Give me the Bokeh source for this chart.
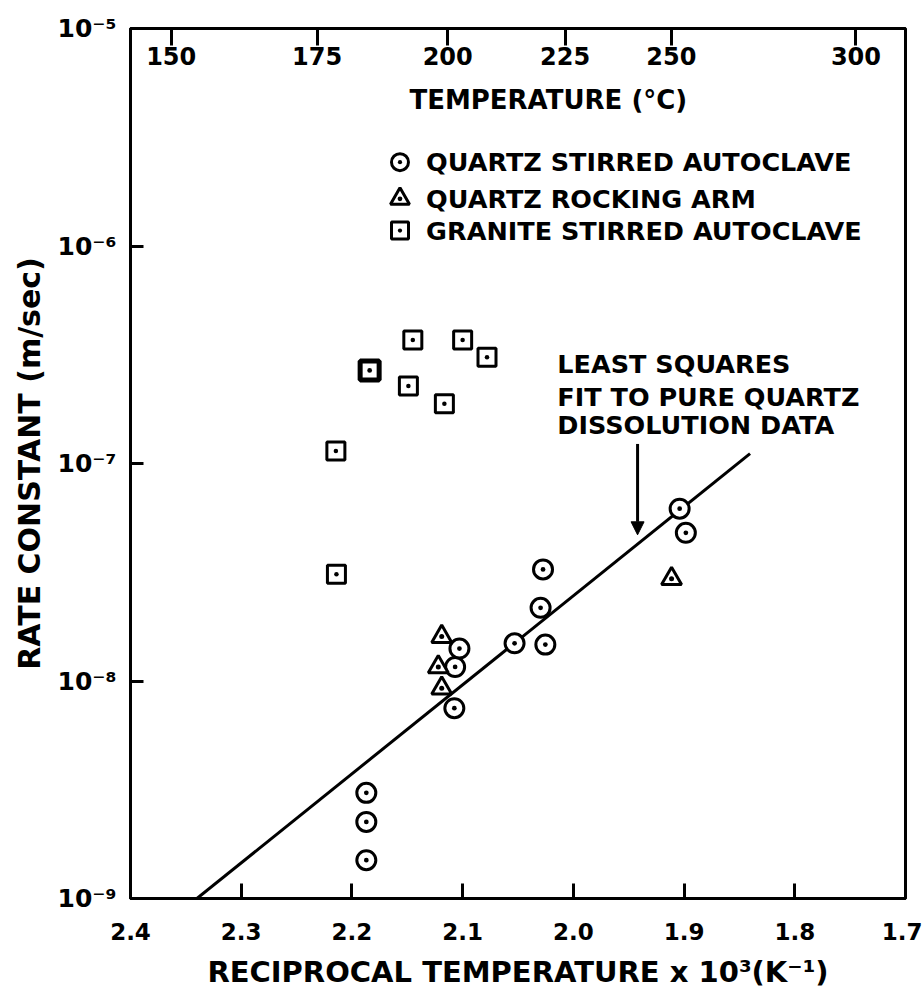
from bokeh.plotting import figure
from bokeh.models import (Range1d, LinearAxis, FixedTicker, Label, Arrow,
                          NormalHead, CustomJSTickFormatter)
from bokeh.embed import file_html
from bokeh.resources import INLINE

# ---------------- data ----------------
# Quartz, stirred autoclave (1000/T, rate constant m/s)
qsa_x = [2.187, 2.187, 2.187, 2.1075, 2.1068, 2.1029, 2.0531, 2.0296, 2.0253, 2.0274, 1.904, 1.8984]
qsa_k = [3.06e-9, 2.25e-9, 1.5e-9, 7.5e-9, 1.16e-8, 1.41e-8, 1.49e-8, 2.17e-8, 1.47e-8, 3.26e-8, 6.2e-8, 4.8e-8]

# Quartz, rocking arm
qra_x = [2.1189, 2.122, 2.1189, 1.9113]
qra_k = [1.6e-8, 1.16e-8, 9.26e-9, 2.95e-8]

# Granite, stirred autoclave
gsa_x = [2.2145, 2.214, 2.184, 2.149, 2.145, 2.1165, 2.100, 2.078]
gsa_k = [1.14e-7, 3.1e-8, 2.68e-7, 2.27e-7, 3.7e-7, 1.88e-7, 3.7e-7, 3.08e-7]

# least squares fit to pure quartz data (end points)
fit_x = [2.34, 1.8404]
fit_k = [1.0e-9, 1.11e-7]

# axes
x_ticks = [2.4, 2.3, 2.2, 2.1, 2.0, 1.9, 1.8, 1.7]
y_ticks = [1e-9, 1e-8, 1e-7, 1e-6, 1e-5]
temp_c = [150, 175, 200, 225, 250, 300]
temp_x = [1000.0 / (t + 273.15) for t in temp_c]

legend_labels = ["QUARTZ STIRRED AUTOCLAVE", "QUARTZ ROCKING ARM", "GRANITE STIRRED AUTOCLAVE"]
note_lines = ["LEAST SQUARES", "FIT TO PURE QUARTZ", "DISSOLUTION DATA"]

FONT = "DejaVu Sans"
INK = "black"

p = figure(width=922, height=995, output_backend="svg", toolbar_location=None,
           x_range=Range1d(2.4, 1.7), y_range=Range1d(1e-9, 1e-5),
           y_axis_type="log",
           min_border_left=130, min_border_right=17, min_border_top=28, min_border_bottom=97)
p.grid.visible = False
p.outline_line_color = INK
p.outline_line_width = 3
p.background_fill_color = "white"
p.border_fill_color = "white"

# bottom axis
xa = p.xaxis[0]
xa.ticker = FixedTicker(ticks=x_ticks)
xa.formatter = CustomJSTickFormatter(code="return tick.toFixed(1);")
xa.major_tick_in = 15
xa.major_tick_out = 0
xa.minor_tick_in = 0
xa.minor_tick_out = 0
xa.axis_line_width = 3
xa.axis_line_color = INK
xa.major_tick_line_width = 3
xa.major_tick_line_color = INK
xa.major_label_standoff = 24
xa.major_label_text_font = FONT
xa.major_label_text_font_style = "bold"
xa.major_label_text_font_size = "23px"
xa.major_label_text_color = INK
xa.axis_label = "RECIPROCAL TEMPERATURE x 10\u00b3(K\u207b\u00b9)"
xa.axis_label_text_font = FONT
xa.axis_label_text_font_style = "bold"
xa.axis_label_text_font_size = "29px"
xa.axis_label_text_color = INK
xa.axis_label_standoff = 12

# left axis
ya = p.yaxis[0]
ya.ticker = FixedTicker(ticks=y_ticks)
ya.formatter = CustomJSTickFormatter(code="""
const sup = {'-':'\u207b','0':'\u2070','1':'\u00b9','2':'\u00b2','3':'\u00b3','4':'\u2074',
             '5':'\u2075','6':'\u2076','7':'\u2077','8':'\u2078','9':'\u2079'};
const e = Math.round(Math.log10(tick));
return '10' + String(e).split('').map(c => sup[c]).join('');
""")
ya.major_tick_in = 13
ya.major_tick_out = 0
ya.minor_tick_in = 0
ya.minor_tick_out = 0
ya.axis_line_width = 3
ya.axis_line_color = INK
ya.major_tick_line_width = 3
ya.major_tick_line_color = INK
ya.major_label_standoff = 14
ya.major_label_text_font = FONT
ya.major_label_text_font_style = "bold"
ya.major_label_text_font_size = "25px"
ya.major_label_text_color = INK
ya.axis_label = "RATE CONSTANT (m/sec)"
ya.axis_label_text_font = FONT
ya.axis_label_text_font_style = "bold"
ya.axis_label_text_font_size = "30px"
ya.axis_label_text_color = INK
ya.axis_label_standoff = 8

# top temperature axis: ticks inward, labels pulled inside the frame
top = LinearAxis(ticker=FixedTicker(ticks=temp_x),
                 formatter=CustomJSTickFormatter(code="return String(Math.round(1000 / tick - 273.15));"),
                 major_tick_in=17, major_tick_out=0, minor_tick_in=0, minor_tick_out=0,
                 axis_line_width=3, axis_line_color=INK,
                 major_tick_line_width=3, major_tick_line_color=INK,
                 major_label_text_font=FONT, major_label_text_font_style="bold",
                 major_label_text_font_size="24px", major_label_text_color=INK,
                 major_label_standoff=-36)
p.add_layout(top, "above")

p.add_layout(Label(x=2.0226, y=4.67e-6, text="TEMPERATURE (\u00b0C)", text_align="center",
                   text_baseline="middle", text_font=FONT, text_font_style="bold",
                   text_font_size="26px", text_color=INK))

# fit line
p.line(fit_x, fit_k, line_color=INK, line_width=3)

# data
p.scatter(qsa_x, qsa_k, marker="circle_dot", size=19, line_width=3,
          line_color=INK, fill_color="white")
p.scatter(qra_x, qra_k, marker="triangle_dot", size=20, line_width=3,
          line_color=INK, fill_color="white")
p.scatter(gsa_x, gsa_k, marker="square_dot", size=18, line_width=3,
          line_color=INK, fill_color="white")
# one heavier-drawn granite point
p.scatter([gsa_x[2]], [gsa_k[2]], marker="square_dot", size=19, line_width=5,
          line_color=INK, fill_color="white")

# arrow pointing to the fit line
p.add_layout(Arrow(end=NormalHead(size=13, fill_color=INK, line_color=INK),
                   x_start=1.942, y_start=1.23e-7, x_end=1.942, y_end=4.7e-8,
                   line_width=3, line_color=INK))
note_y = [2.87e-7, 2.02e-7, 1.5e-7]
for t, yy in zip(note_lines, note_y):
    p.add_layout(Label(x=2.0145, y=yy, text=t, text_align="left", text_baseline="middle",
                       text_font=FONT, text_font_style="bold", text_font_size="25.5px",
                       text_color=INK))

# legend drawn in the frame
leg_y = [2.43e-6, 1.648e-6, 1.177e-6]
leg_markers = ["circle_dot", "triangle_dot", "square_dot"]
leg_sizes = [17, 19, 17]
for m, s, yy, t in zip(leg_markers, leg_sizes, leg_y, legend_labels):
    p.scatter([2.1566], [yy], marker=m, size=s, line_width=3, line_color=INK,
              fill_color="white")
    p.add_layout(Label(x=2.133, y=yy, text=t, text_align="left", text_baseline="middle",
                       text_font=FONT, text_font_style="bold", text_font_size="25.5px",
                       text_color=INK))

open("out.html", "w").write(file_html(p, INLINE))
